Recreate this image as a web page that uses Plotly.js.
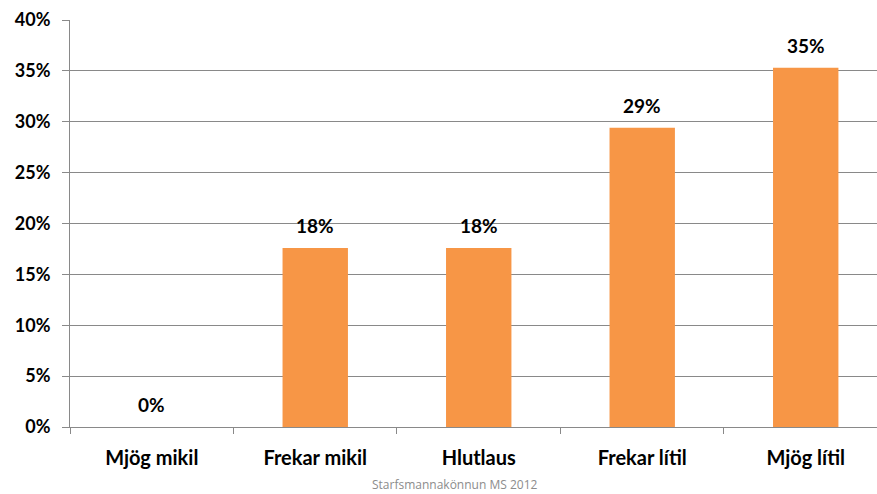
<!DOCTYPE html>
<html><head><meta charset="utf-8">
<script src="https://cdn.plot.ly/plotly-3.0.1.min.js"></script>
<style>html,body{margin:0;padding:0;background:#fff}#c{width:877px;height:494px}</style>
</head><body><div id="c"></div>
<script>
var categories = ["Mjög mikil", "Frekar mikil", "Hlutlaus", "Frekar lítil", "Mjög lítil"];
var values = [0, 17.6, 17.6, 29.4, 35.3];
var labels = ["0%", "18%", "18%", "29%", "35%"];
var yTicks = [0, 5, 10, 15, 20, 25, 30, 35, 40];
var yTickText = ["0%", "5%", "10%", "15%", "20%", "25%", "30%", "35%", "40%"];
var footnote = "Starfsmannakönnun MS 2012";

var font = "Lato, 'Open Sans', sans-serif";
var trace = {
  type: "bar", x: categories, y: values,
  marker: {color: "#F79646", line: {width: 0}},
  width: 0.4, hoverinfo: "none"
};
var annotations = categories.map(function (c, i) {
  return {
    text: labels[i], x: c, y: values[i], xref: "x", yref: "y",
    showarrow: false, yanchor: "bottom", yshift: 9,
    font: {family: font, size: 19, color: "#000", weight: "bold"}
  };
});
annotations.push({
  text: footnote, xref: "paper", yref: "paper",
  x: 0.477, y: -0.1425, yanchor: "middle", showarrow: false,
  font: {family: "'Open Sans', sans-serif", size: 12, color: "#8C8C8C"}
});
var layout = {
  width: 877, height: 494,
  margin: {l: 70, r: 0, t: 20, b: 67},
  paper_bgcolor: "#fff", plot_bgcolor: "#fff",
  showlegend: false,
  xaxis: {
    type: "category", range: [-0.5, 4.436],
    showline: true, linecolor: "#898989", linewidth: 1,
    ticks: "outside", tickson: "boundaries", ticklen: 6, tickcolor: "#898989",
    showgrid: false, ticklabelstandoff: 13,
    tickfont: {family: font, size: 20, color: "#000", weight: "bold"}
  },
  yaxis: {
    range: [0, 40], tickvals: yTicks, ticktext: yTickText,
    showline: true, linecolor: "#898989", linewidth: 1,
    ticks: "outside", ticklen: 7, tickcolor: "#898989",
    showgrid: true, gridcolor: "#898989", gridwidth: 1,
    zeroline: false, ticklabelstandoff: 8,
    tickfont: {family: font, size: 18, color: "#000", weight: "bold"}
  },
  annotations: annotations
};
Plotly.newPlot("c", [trace], layout, {staticPlot: true});
</script></body></html>
